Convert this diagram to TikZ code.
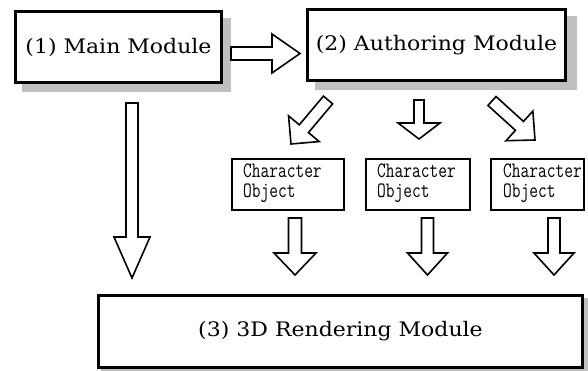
\documentclass[tikz,border=0pt]{standalone}
\usepackage{fontspec}
\usetikzlibrary{calc}
\newfontfamily\modfont[FakeStretch=1.1]{DejaVu Serif}
\newfontfamily\objfont[FakeStretch=0.77]{Latin Modern Mono}

\tikzset{
  module/.style={draw=black, line width=2.6pt, fill=white, inner sep=0pt,
    font=\modfont\fontsize{20}{22}\selectfont},
  objbox/.style={draw=black, line width=2.4pt, fill=white, inner sep=0pt},
  objtext/.style={anchor=west, inner sep=0pt, align=left,
    font=\objfont\fontsize{22}{20}\selectfont},
  blockarrow/.style={draw=black, line width=1.6pt, fill=white, line join=miter},
  dropshade/.style={fill=black!25, draw=none}
}

% hollow block arrow: tail, tip, half shaft width, half head width, head length
\newcommand\hollowarrow[5]{%
  \coordinate (hb) at ($(#2)!#5!(#1)$);
  \draw[blockarrow] ($(#1)!#3!90:(#2)$) -- ($(hb)!#3!90:(#2)$)
    -- ($(hb)!#4!90:(#2)$) -- (#2) -- ($(hb)!#4!-90:(#2)$)
    -- ($(hb)!#3!-90:(#2)$) -- ($(#1)!#3!-90:(#2)$) -- cycle;
}

\begin{document}
\begin{tikzpicture}[x=1pt, y=-1pt]
  \useasboundingbox (0,0) rectangle (588,371);

  % drop shadows behind the module boxes
  \fill[dropshade] (22,18) rectangle (231,92);
  \fill[dropshade] (315,16) rectangle (577,90);
  \fill[dropshade] (101,298) rectangle (588,373);

  % modules
  \node[module, minimum width=206.4pt, minimum height=71.4pt] (main) at (118.5,47) {(1) Main Module};
  \node[module, minimum width=258.4pt, minimum height=71.4pt] (auth) at (436.5,45) {(2) Authoring Module};
  \node[module, minimum width=484.4pt, minimum height=72.4pt] (render) at (340.5,331.5) {(3) 3D Rendering Module};

  % character objects
  \node[objbox, minimum width=111.6pt, minimum height=50.6pt] (obj1) at (288,184.5) {};
  \node[objbox, minimum width=103.6pt, minimum height=50.6pt] (obj2) at (418,184.5) {};
  \node[objbox, minimum width=92.6pt, minimum height=50.6pt] (obj3) at (537.5,184.5) {};
  \node[objtext] (t1) at ($(obj1.west)+(12,-1)$) {Character\\Object};
  \node[objtext] (t2) at ($(obj2.west)+(12,-1)$) {Character\\Object};
  \node[objtext] (t3) at ($(obj3.west)+(13,-1)$) {Character\\Object};

  % arrow end points
  \coordinate (a1s) at (231,53.5);  \coordinate (a1e) at (300,53.5);
  \coordinate (a2s) at (132,103);   \coordinate (a2e) at (132,278);
  \coordinate (a3s) at (328,100);   \coordinate (a3e) at (291,144);
  \coordinate (a4s) at (419,100);   \coordinate (a4e) at (419,139);
  \coordinate (a5s) at (492,101);   \coordinate (a5e) at (535,140);
  \coordinate (a6s) at (295,218);   \coordinate (a6e) at (295,275);
  \coordinate (a7s) at (427.5,218); \coordinate (a7e) at (427.5,275);
  \coordinate (a8s) at (554,218);   \coordinate (a8e) at (554,275);

  \hollowarrow{a1s}{a1e}{6.5pt}{19.5pt}{28pt}
  \hollowarrow{a2s}{a2e}{6pt}{18pt}{41pt}
  \hollowarrow{a3s}{a3e}{6pt}{20pt}{20pt}
  \hollowarrow{a4s}{a4e}{5pt}{21pt}{16pt}
  \hollowarrow{a5s}{a5e}{6pt}{20pt}{21pt}
  \hollowarrow{a6s}{a6e}{6.5pt}{21pt}{22pt}
  \hollowarrow{a7s}{a7e}{6pt}{20pt}{22pt}
  \hollowarrow{a8s}{a8e}{6pt}{20pt}{22pt}
\end{tikzpicture}
\end{document}
